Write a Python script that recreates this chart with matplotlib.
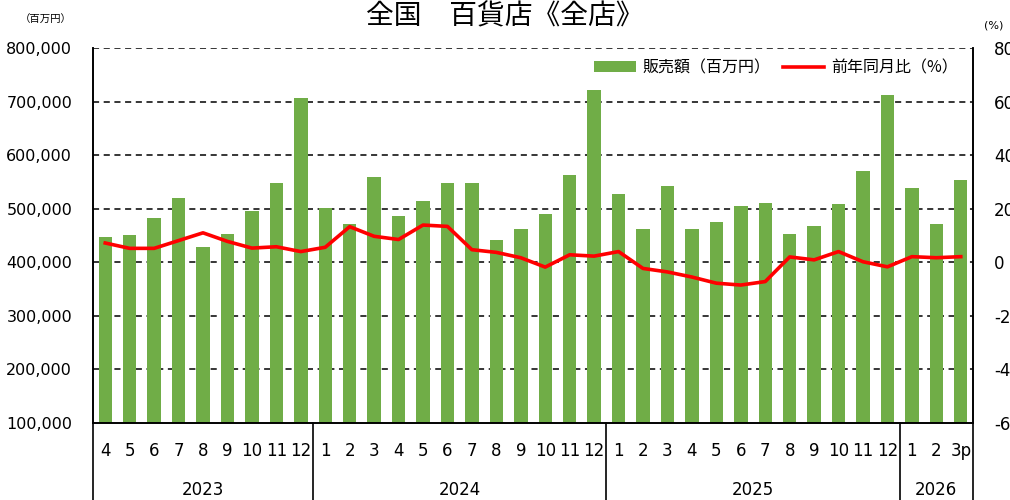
import matplotlib
matplotlib.use("Agg")
import matplotlib.pyplot as plt
from matplotlib.lines import Line2D
from matplotlib.patches import Patch
import matplotlib.transforms as mtransforms

plt.rcParams['font.family'] = ['Noto Sans CJK JP', 'DejaVu Sans']

months = ["4", "5", "6", "7", "8", "9", "10", "11", "12",
          "1", "2", "3", "4", "5", "6", "7", "8", "9", "10", "11", "12",
          "1", "2", "3", "4", "5", "6", "7", "8", "9", "10", "11", "12",
          "1", "2", "3p"]
years = ["2023", "2024", "2025", "2026"]
year_counts = [9, 12, 12, 3]

sales = [447000, 450000, 483000, 520000, 428000, 453000, 495000, 548000, 706000,
         502000, 471000, 559000, 487000, 514000, 548000, 548000, 441000, 462000, 490000, 563000, 721000,
         527000, 462000, 542000, 462000, 475000, 505000, 511000, 453000, 468000, 508000, 570000, 712000,
         538000, 471000, 554000]
yoy = [7.2, 5.2, 5.2, 8.1, 11.0, 7.8, 5.3, 5.8, 4.0,
       5.6, 13.3, 9.7, 8.5, 13.9, 13.4, 4.7, 3.7, 1.7, -1.8, 2.8, 2.3,
       4.0, -2.3, -3.6, -5.5, -7.8, -8.5, -7.2, 2.0, 0.9, 4.0, 0.2, -1.7,
       2.1, 1.7, 2.1]

title = "全国　百貨店《全店》"
bar_label = "販売額（百万円）"
line_label = "前年同月比（%）"

fig = plt.figure(figsize=(10.1, 5.0), dpi=100)
ax = fig.add_axes([93/1010, 1-423/500, 880/1010, 375/500])
x = list(range(len(sales)))
ax.bar(x, sales, width=0.55, color="#70AD47", bottom=0, zorder=2)
ax.set_ylim(100000, 800000)
ax.set_xlim(-0.5, len(sales) - 0.5)
ax.set_yticks(range(100000, 800001, 100000))
ax.set_yticklabels([f"{v:,}" for v in range(100000, 800001, 100000)], fontsize=11.5, family='DejaVu Sans')
ax.tick_params(axis='y', length=0, pad=15)
for v in range(200000, 800001, 100000):
    ax.axhline(v, color='black', linestyle=(0, (4, 3)), linewidth=1.1, zorder=1)
ax.set_xticks(x)
ax.set_xticklabels(months, fontsize=12, family='DejaVu Sans')
ax.tick_params(axis='x', length=0, pad=14)
ax.spines['top'].set_visible(False)
for s in ['left', 'right', 'bottom']:
    ax.spines[s].set_linewidth(1.2)

ax2 = ax.twinx()
ax2.plot(x, yoy, color="#FF0000", linewidth=2.6, zorder=3)
ax2.set_ylim(-60, 80)
ax2.set_yticks(range(-60, 81, 20))
ax2.set_yticklabels([str(v) for v in range(-60, 81, 20)], fontsize=12, family='DejaVu Sans')
ax2.tick_params(axis='y', length=0, pad=15)
ax2.spines['top'].set_visible(False)
for s in ['left', 'right', 'bottom']:
    ax2.spines[s].set_linewidth(1.2)

# category separators and year labels
trans = mtransforms.blended_transform_factory(ax.transData, ax.transAxes)
ybot = (423 - 500) / 375
bounds = [-0.5]
for c in year_counts:
    bounds.append(bounds[-1] + c)
for b in bounds:
    ax.add_line(Line2D([b, b], [0, ybot], transform=trans, color='black', linewidth=1.2, clip_on=False))
for i, yr in enumerate(years):
    cx = (bounds[i] + bounds[i + 1]) / 2
    ax.text(cx, (423 - 490) / 375, yr, transform=trans, ha='center', va='center', fontsize=12, family='DejaVu Sans')

# legend
handles = [Patch(facecolor="#70AD47", label=bar_label),
           Line2D([0], [0], color="#FF0000", linewidth=2.6, label=line_label)]
ax.legend(handles=handles, loc='upper right', bbox_to_anchor=(0.995, 1.0), ncol=2, frameon=False,
          fontsize=11.5, handlelength=2.6, columnspacing=0.8, handletextpad=0.4, borderaxespad=0.3)

fig.text(0.5, 1 - 16/500, title, ha='center', va='center', fontsize=20)
fig.text(46/1010, 1 - 20/500, "（百万円）", ha='center', va='center', fontsize=7.5)
fig.text(994/1010, 1 - 25/500, "(%)", ha='center', va='center', fontsize=8, family='DejaVu Sans')

fig.savefig("out.png", dpi=100)
